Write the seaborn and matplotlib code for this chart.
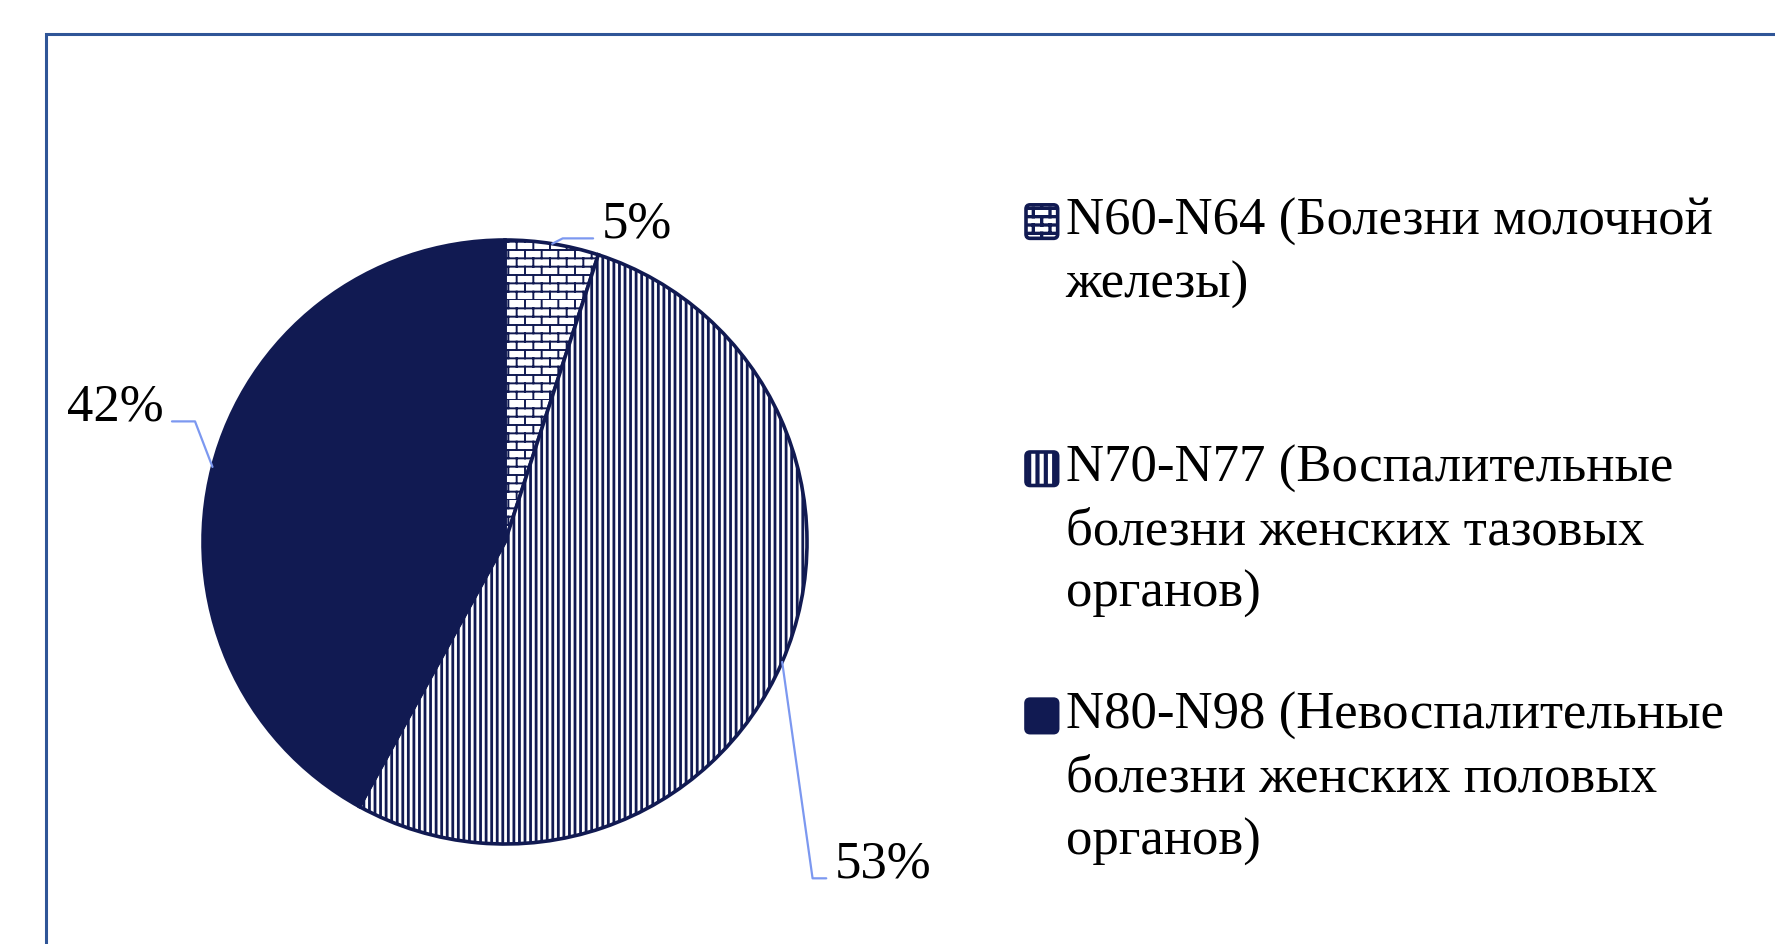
import warnings
import numpy as np
import matplotlib
matplotlib.use("Agg")
import matplotlib.pyplot as plt
import matplotlib.patches as mpatches
from matplotlib import hatch as mhatch
from matplotlib.path import Path
from matplotlib.legend_handler import HandlerPatch
import seaborn as sns

warnings.filterwarnings("ignore")

# данные
labels = ["N60-N64 (Болезни молочной\nжелезы)\n",
          "N70-N77 (Воспалительные\nболезни женских тазовых\nорганов)",
          "N80-N98 (Невоспалительные\nболезни женских половых\nорганов)"]
shares = [5, 53, 42]
pct_labels = ["5%", "53%", "42%"]

navy = "#111A52"
leader = "#7C98F0"


# кирпичная штриховка, в matplotlib такой нет
class BrickHatch(mhatch.HatchPatternBase):
    def __init__(self, hatch, density):
        self.rows = hatch.count("b") * density
        self.cols = self.rows // 2
        self.num_lines = self.rows
        self.num_vertices = 2 * self.rows + 2 * self.rows * self.cols

    def set_vertices_and_codes(self, vertices, codes):
        h = 1.0 / self.rows
        w = 1.0 / self.cols
        i = 0
        for r in range(self.rows):
            y = r * h
            vertices[i] = (0, y)
            vertices[i + 1] = (1, y)
            codes[i] = Path.MOVETO
            codes[i + 1] = Path.LINETO
            i += 2
            off = 0 if r % 2 == 0 else w / 2
            for c in range(self.cols):
                x = c * w + off
                vertices[i] = (x, y)
                vertices[i + 1] = (x, y + h)
                codes[i] = Path.MOVETO
                codes[i + 1] = Path.LINETO
                i += 2


mhatch._hatch_types.append(BrickHatch)


def hatch_lw(patch, lw):
    # толщина штриховки для отдельного патча, если версия умеет
    if hasattr(patch, "set_hatch_linewidth"):
        patch.set_hatch_linewidth(lw)


sns.set_theme(style="white")
plt.rcParams["font.family"] = ["Liberation Serif", "DejaVu Serif"]
plt.rcParams["hatch.linewidth"] = 1.8

W, H = 1775, 945
cx, cy, R = 505, 543, 302   # центр и радиус круга в пикселях

fig = plt.figure(figsize=(W / 100, H / 100), dpi=100)
fig.patch.set_facecolor("white")
ax = fig.add_axes([0, 0, 1, 1])

wedges, _ = ax.pie(shares, startangle=90, counterclock=False,
                   colors=["white", "white", navy],
                   hatch=["bb", "|||", ""],
                   wedgeprops=dict(edgecolor=navy, linewidth=2.6))
hatch_lw(wedges[0], 1.4)
hatch_lw(wedges[1], 2.0)
ax.set_aspect("auto")
ax.set_xlim(-cx / R, (W - cx) / R)
ax.set_ylim(-(H - cy) / R, cy / R)
ax.axis("off")

# подписи процентов с выносками
pos = [(0.321, 1.010, "left", 0, 27),
       (1.093, -1.109, "left", 0, -82),
       (-1.132, 0.404, "right", 1, 111)]
for w, txt, (tx, ty, ha, rx, angB) in zip(wedges, pct_labels, pos):
    mid = np.deg2rad((w.theta1 + w.theta2) / 2)
    ax.annotate(txt, xy=(np.cos(mid), np.sin(mid)), xytext=(tx, ty),
                ha=ha, va="baseline", fontsize=38, color="black",
                arrowprops=dict(arrowstyle="-", color=leader, lw=1.6,
                                relpos=(rx, 0.2), shrinkA=4, shrinkB=0,
                                connectionstyle=f"angle,angleA=0,angleB={angB},rad=0"))

# легенда: маркер по первой строке
line_pitch = 44.6  # pt


def top_box(legend, orig_handle, xdescent, ydescent, width, height, fontsize):
    return mpatches.FancyBboxPatch((-xdescent, -ydescent + line_pitch), width, height,
                                   boxstyle="round,pad=0,rounding_size=3")


leg = ax.legend(wedges, labels, loc="upper left",
                bbox_to_anchor=(1026 / W, 1 - 198 / H), bbox_transform=fig.transFigure,
                frameon=False, fontsize=38, borderpad=0, borderaxespad=0,
                handlelength=0.6, handleheight=0.6, handletextpad=0.15,
                labelspacing=1.4, labelcolor="black",
                handler_map={mpatches.Wedge: HandlerPatch(patch_func=top_box)})
for t in leg.get_texts():
    t.set_linespacing(1.39)

# маркеры легенды: крупный рисунок, толстые линии
leg.legend_handles[0].set_hatch("bb")
leg.legend_handles[1].set_hatch("||")
hatch_lw(leg.legend_handles[0], 2.4)
hatch_lw(leg.legend_handles[1], 3.0)

# рамка
fig.add_artist(mpatches.Rectangle((45.5 / W, -0.05), 1.2, 1 - 34.5 / H + 0.05,
                                  transform=fig.transFigure, fill=False,
                                  edgecolor="#2F5597", linewidth=2.2))

fig.savefig("out.png", dpi=100)
